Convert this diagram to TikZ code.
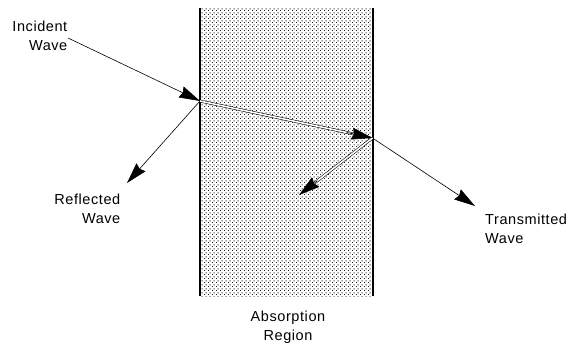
\documentclass[tikz,border=0pt]{standalone}
\usepackage{fontspec}
\setmainfont{Liberation Sans}[LetterSpace=4]
\usetikzlibrary{arrows.meta,patterns.meta,calc}
\pgfdeclarepattern{
  name=regiondots,
  bottom left={\pgfpoint{0pt}{0pt}},
  top right={\pgfpoint{4pt}{4pt}},
  tile size={\pgfpoint{4pt}{4pt}},
  code={
    \pgfpathrectangle{\pgfpoint{0pt}{0pt}}{\pgfpoint{1.15pt}{1.15pt}}
    \pgfpathrectangle{\pgfpoint{2pt}{2pt}}{\pgfpoint{1.15pt}{1.15pt}}
    \pgfusepath{fill}
  }
}
\tikzset{
  lbl/.style={inner sep=0pt, font=\fontsize{14.5}{18.5}\selectfont},
  tip/.style={-{Stealth[length=21pt,width=12pt,inset=2pt]}},
  wave/.style={line width=0.6pt, tip},
  dwave/.style={double, double distance=1.6pt, line width=0.55pt, shorten >=12pt},
  edge/.style={line width=1.2pt}
}
\begin{document}
\begin{tikzpicture}[x=1pt,y=-1pt]
\useasboundingbox (0,0) rectangle (568,343);
% absorption region
\fill[pattern=regiondots, pattern color=black!90] (200,8) rectangle (373,296);
\draw[edge] (200,8) -- (200,296);
\draw[edge] (373,8) -- (373,296);
% points
\coordinate (src) at (68,38);
\coordinate (A) at (200,101);
\coordinate (B) at (372.5,138);
\coordinate (refl) at (127,183);
\coordinate (trans) at (475,206);
\coordinate (inner) at (299,195);
% waves
\draw[wave] (src) -- (A);
\draw[wave] (A) -- (refl);
\draw[wave] (B) -- (trans);
\draw[dwave] (A) -- (B);
\draw[wave] ($(A)!0.85!(B)$) -- (B);
\draw[dwave] (B) -- (inner);
\draw[wave] ($(B)!0.75!(inner)$) -- (inner);
% labels
\node[lbl, anchor=east, align=right] (inc) at (67.5,36) {Incident\\Wave};
\node[lbl, anchor=east, align=right] (ref) at (120.5,209) {Reflected\\Wave};
\node[lbl, anchor=west, align=left] (tra) at (485,229) {Transmitted\\Wave};
\node[lbl, align=center] (abs) at (288,327) {Absorption\\Region};
\end{tikzpicture}
\end{document}
